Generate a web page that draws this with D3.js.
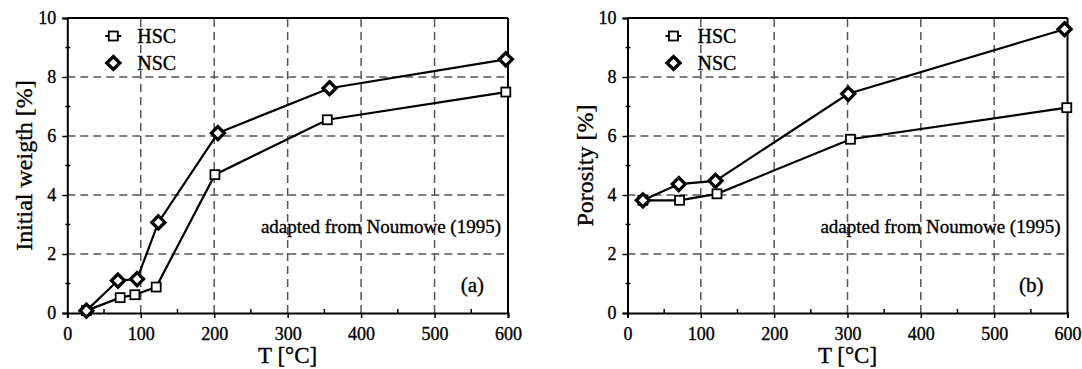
<!DOCTYPE html>
<html>
<head>
<meta charset="utf-8">
<script src="https://cdn.jsdelivr.net/npm/d3@7"></script>
<style>
  body { margin: 0; background: #fff; }
  text { font-family: "Liberation Serif", "DejaVu Serif", serif; fill: #000; stroke: #000; stroke-width: 0.35px; }
</style>
</head>
<body>
<svg id="chart" width="1082" height="369"></svg>
<script>
// tick labels
const xTicks = [0, 100, 200, 300, 400, 500, 600];
const yTicks = [0, 2, 4, 6, 8, 10];
const seriesNames = ["HSC", "NSC"];

// panel (a) initial weight loss
const tempA_hsc = [26, 72, 92, 121, 201, 354, 597];
const weightA_hsc = [0.08, 0.52, 0.62, 0.88, 4.69, 6.55, 7.49];
const tempA_nsc = [26, 69, 95, 124, 205, 357, 597];
const weightA_nsc = [0.08, 1.1, 1.15, 3.07, 6.1, 7.62, 8.6];

// panel (b) porosity
const tempB_hsc = [21, 71, 122, 304, 599];
const porB_hsc = [3.82, 3.82, 4.04, 5.89, 6.96];
const tempB_nsc = [21, 70, 120, 301, 596];
const porB_nsc = [3.82, 4.37, 4.48, 7.43, 9.62];

const svg = d3.select("#chart");
svg.append("rect").attr("width", 1082).attr("height", 369).attr("fill", "#fff");

function drawPanel(cfg) {
  const g = svg.append("g");
  const x = d3.scaleLinear().domain([0, 600]).range([cfg.left, cfg.right]);
  const y = d3.scaleLinear().domain([0, 10]).range([313, 18]);

  // dashed grid
  g.selectAll(".gx").data(xTicks.filter(d => d > 0 && d < 600)).enter()
    .append("line")
    .attr("x1", d => x(d)).attr("x2", d => x(d))
    .attr("y1", y(0)).attr("y2", y(10))
    .attr("stroke", "#555").attr("stroke-width", 1.5)
    .attr("stroke-dasharray", "8,5");
  g.selectAll(".gy").data(yTicks.filter(d => d > 0 && d < 10)).enter()
    .append("line")
    .attr("x1", x(0)).attr("x2", x(600))
    .attr("y1", d => y(d)).attr("y2", d => y(d))
    .attr("stroke", "#555").attr("stroke-width", 1.5)
    .attr("stroke-dasharray", "8,5");

  // minor ticks (inward)
  g.selectAll(".mx").data(d3.range(50, 600, 100)).enter()
    .append("line")
    .attr("x1", d => x(d)).attr("x2", d => x(d))
    .attr("y1", y(0)).attr("y2", y(0) - 4)
    .attr("stroke", "#000").attr("stroke-width", 1.5);
  g.selectAll(".my").data(d3.range(1, 10, 2)).enter()
    .append("line")
    .attr("x1", x(0) - 2).attr("x2", x(0) + 3)
    .attr("y1", d => y(d)).attr("y2", d => y(d))
    .attr("stroke", "#000").attr("stroke-width", 1.5);

  // axes
  const xAxis = d3.axisBottom(x).tickValues(xTicks).tickSize(5).tickPadding(6);
  const gx = g.append("g").attr("transform", `translate(0,${y(0)})`).call(xAxis);
  const yAxis = d3.axisLeft(y).tickValues(yTicks).tickSize(5).tickPadding(6);
  const gy = g.append("g").attr("transform", `translate(${x(0)},0)`).call(yAxis);
  [gx, gy].forEach(a => {
    a.select(".domain").attr("stroke", "#000").attr("stroke-width", 2);
    a.selectAll(".tick line").attr("stroke", "#000").attr("stroke-width", 1.5);
    a.selectAll(".tick text").attr("font-family", "Liberation Serif").attr("font-size", 18).attr("fill", "#000");
  });
  gx.selectAll(".tick text").attr("dy", "0.9em");

  // top and right frame
  g.append("line").attr("x1", x(0)).attr("x2", x(600)).attr("y1", y(10)).attr("y2", y(10))
    .attr("stroke", "#000").attr("stroke-width", 2);
  g.append("line").attr("x1", x(600)).attr("x2", x(600)).attr("y1", y(10)).attr("y2", y(0))
    .attr("stroke", "#000").attr("stroke-width", 2);

  // axis titles
  g.append("text").text("T [°C]")
    .attr("x", (x(0) + x(600)) / 2).attr("y", 363)
    .attr("text-anchor", "middle").attr("font-size", 23);
  g.append("text").text(cfg.ylabel)
    .attr("transform", `translate(${x(0) - 35},${(y(0) + y(10)) / 2}) rotate(-90)`)
    .attr("text-anchor", "middle").attr("font-size", 24);

  // annotations
  g.append("text").text("adapted from Noumowe (1995)")
    .attr("x", x(600) - 7).attr("y", 233)
    .attr("text-anchor", "end").attr("font-size", 19);
  g.append("text").text(cfg.tag)
    .attr("x", x(600) - 24).attr("y", 292)
    .attr("text-anchor", "end").attr("font-size", 21);

  // lines
  const line = d3.line().x(d => x(d[0])).y(d => y(d[1]));
  const hsc = d3.zip(cfg.hscT, cfg.hscV);
  const nsc = d3.zip(cfg.nscT, cfg.nscV);
  [hsc, nsc].forEach(s => {
    g.append("path").datum(s).attr("d", line)
      .attr("fill", "none").attr("stroke", "#000").attr("stroke-width", 2.2);
  });

  const sq = 9;
  const dm = 6.5;
  const diamond = (cx, cy) => `M${cx},${cy - dm}L${cx + dm},${cy}L${cx},${cy + dm}L${cx - dm},${cy}Z`;

  g.selectAll(".sq").data(hsc).enter().append("rect")
    .attr("x", d => x(d[0]) - sq / 2).attr("y", d => y(d[1]) - sq / 2)
    .attr("width", sq).attr("height", sq)
    .attr("fill", "#fff").attr("stroke", "#000").attr("stroke-width", 1.8);
  g.selectAll(".dm").data(nsc).enter().append("path")
    .attr("d", d => diamond(x(d[0]), y(d[1])))
    .attr("fill", "#fff").attr("stroke", "#000").attr("stroke-width", 3.3);

  // legend
  const lx = x(0) + 46;
  const legY = [36, 63];
  g.append("line").attr("x1", lx - 8).attr("x2", lx + 8).attr("y1", legY[0]).attr("y2", legY[0])
    .attr("stroke", "#000").attr("stroke-width", 2);
  g.append("rect").attr("x", lx - sq / 2).attr("y", legY[0] - sq / 2).attr("width", sq).attr("height", sq)
    .attr("fill", "#fff").attr("stroke", "#000").attr("stroke-width", 1.8);
  g.append("line").attr("x1", lx - 8).attr("x2", lx + 8).attr("y1", legY[1]).attr("y2", legY[1])
    .attr("stroke", "#000").attr("stroke-width", 2);
  g.append("path").attr("d", diamond(lx, legY[1]))
    .attr("fill", "#fff").attr("stroke", "#000").attr("stroke-width", 3.3);
  seriesNames.forEach((n, i) => {
    g.append("text").text(n).attr("x", x(0) + 70).attr("y", legY[i] + 7).attr("font-size", 20);
  });
}

drawPanel({
  left: 67.3, right: 508, ylabel: "Initial weigth [%]", tag: "(a)",
  hscT: tempA_hsc, hscV: weightA_hsc, nscT: tempA_nsc, nscV: weightA_nsc
});
drawPanel({
  left: 627.5, right: 1067.5, ylabel: "Porosity [%]", tag: "(b)",
  hscT: tempB_hsc, hscV: porB_hsc, nscT: tempB_nsc, nscV: porB_nsc
});
</script>
</body>
</html>
